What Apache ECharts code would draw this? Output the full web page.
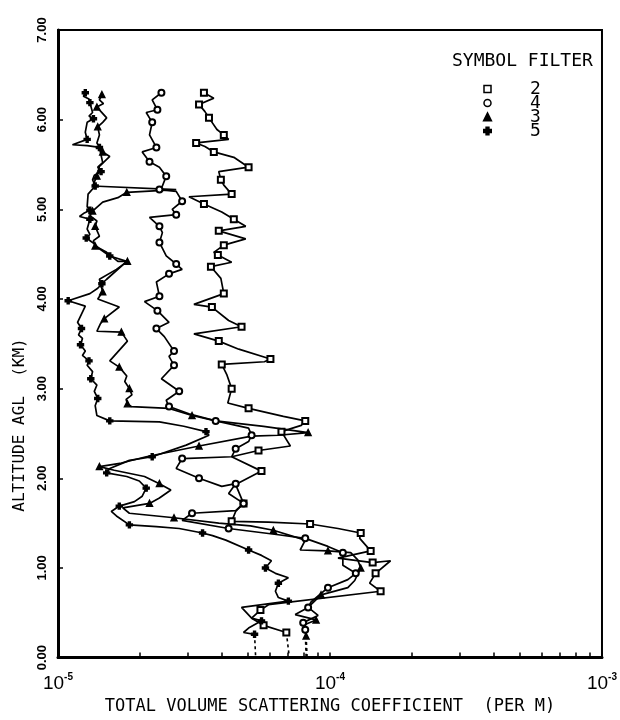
<!DOCTYPE html>
<html>
<head>
<meta charset="utf-8">
<script src="https://cdn.jsdelivr.net/npm/echarts@6/dist/echarts.min.js"></script>
<style>
html, body { margin: 0; padding: 0; background: #fff; }
#main { width: 620px; height: 720px; }
</style>
</head>
<body>
<div id="main"></div>
<script>
// scattering coefficient in units of 1e-5 per metre, altitude in km
var UNIT = 1e-5;

var filter2 = [
    [3.44, 6.30], [3.74, 6.24], [3.30, 6.17], [3.47, 6.09], [3.59, 6.02], [3.84, 5.89], [4.07, 5.83],
    [4.24, 5.78], [3.22, 5.74], [3.47, 5.70], [3.74, 5.64], [4.43, 5.58], [5.02, 5.47], [3.90, 5.42],
    [3.97, 5.33], [4.07, 5.27], [4.35, 5.17], [3.03, 5.14], [3.44, 5.06], [4.00, 4.97], [4.43, 4.89],
    [4.90, 4.81], [3.90, 4.76], [4.90, 4.67], [4.07, 4.60], [3.74, 4.52], [3.87, 4.49], [4.35, 4.41],
    [3.65, 4.36], [3.97, 4.23], [4.07, 4.06], [3.16, 3.94], [3.68, 3.91], [4.24, 3.76], [4.73, 3.69],
    [3.16, 3.61], [3.90, 3.53], [4.62, 3.44], [6.04, 3.33], [5.74, 3.30], [4.00, 3.27], [4.17, 3.16],
    [4.35, 3.00], [4.21, 2.84], [5.02, 2.78], [6.74, 2.69], [8.11, 2.64], [7.84, 2.59], [6.63, 2.52],
    [7.15, 2.36], [5.46, 2.31], [4.35, 2.24], [5.60, 2.08], [4.50, 1.93], [4.81, 1.72], [4.50, 1.63],
    [4.35, 1.52], [5.94, 1.51], [8.45, 1.49], [10.70, 1.44], [12.97, 1.39], [12.86, 1.33], [14.11, 1.19],
    [10.70, 1.11], [14.35, 1.06], [16.70, 1.08], [14.71, 0.94], [13.99, 0.83], [15.35, 0.74], [5.94, 0.59],
    [5.55, 0.53], [5.15, 0.44], [5.70, 0.36], [6.91, 0.28]
];
var filter4 = [
    [2.40, 6.30], [2.22, 6.22], [2.32, 6.11], [2.11, 6.08], [2.22, 5.97], [2.17, 5.83], [2.30, 5.69],
    [2.04, 5.64], [2.17, 5.53], [2.36, 5.47], [2.50, 5.37], [2.42, 5.26], [2.36, 5.22], [2.72, 5.20],
    [2.86, 5.09], [2.63, 5.00], [2.72, 4.94], [2.17, 4.91], [2.36, 4.81], [2.42, 4.74], [2.36, 4.63],
    [2.50, 4.48], [2.72, 4.39], [2.86, 4.33], [2.56, 4.28], [2.30, 4.19], [2.36, 4.03], [2.08, 3.97],
    [2.32, 3.87], [2.56, 3.74], [2.30, 3.67], [2.46, 3.58], [2.67, 3.42], [2.56, 3.36], [2.67, 3.26],
    [2.40, 3.11], [2.79, 2.97], [2.50, 2.87], [2.56, 2.80], [3.03, 2.72], [3.80, 2.64], [5.02, 2.56],
    [5.15, 2.48], [5.02, 2.41], [4.50, 2.33], [4.35, 2.24], [2.86, 2.22], [2.72, 2.11], [3.30, 2.00],
    [4.00, 1.91], [4.50, 1.94], [4.24, 1.83], [4.81, 1.72], [4.50, 1.64], [3.11, 1.61], [2.86, 1.53],
    [4.24, 1.44], [6.46, 1.37], [8.11, 1.33], [9.83, 1.24], [11.15, 1.17], [11.15, 1.03], [12.44, 0.94],
    [11.63, 0.87], [9.83, 0.78], [8.52, 0.62], [8.31, 0.56], [9.04, 0.47], [7.97, 0.39], [8.11, 0.31]
];
var filter3 = [
    [1.45, 6.28], [1.42, 6.22], [1.47, 6.18], [1.39, 6.14], [1.51, 6.02], [1.46, 5.97], [1.40, 5.92],
    [1.42, 5.83], [1.39, 5.74], [1.46, 5.64], [1.55, 5.59], [1.42, 5.48], [1.39, 5.37], [1.34, 5.26],
    [2.72, 5.22], [1.79, 5.19], [1.66, 5.13], [1.46, 5.08], [1.34, 4.98], [1.31, 4.93], [1.39, 4.87],
    [1.37, 4.81], [1.42, 4.70], [1.35, 4.65], [1.37, 4.59], [1.51, 4.52], [1.66, 4.42], [1.80, 4.42],
    [1.64, 4.33], [1.42, 4.22], [1.46, 4.08], [1.40, 4.00], [1.68, 3.91], [1.48, 3.78], [1.43, 3.72],
    [1.39, 3.64], [1.71, 3.63], [1.80, 3.53], [1.55, 3.31], [1.68, 3.24], [1.79, 3.14], [1.76, 3.08],
    [1.83, 3.00], [1.87, 2.93], [1.78, 2.88], [1.80, 2.83], [1.86, 2.80], [2.56, 2.78], [3.11, 2.70],
    [3.80, 2.64], [5.70, 2.58], [8.31, 2.51], [6.46, 2.48], [5.15, 2.47], [3.30, 2.36], [2.11, 2.24],
    [1.71, 2.17], [1.42, 2.13], [1.61, 2.09], [2.08, 2.02], [2.36, 1.94], [2.60, 1.87], [2.36, 1.78],
    [2.17, 1.72], [1.73, 1.67], [1.83, 1.61], [2.67, 1.56], [3.90, 1.50], [5.10, 1.47], [6.19, 1.42],
    [8.11, 1.31], [7.77, 1.20], [9.83, 1.19], [11.92, 1.17], [12.65, 1.09], [12.97, 1.00], [12.33, 0.86],
    [11.63, 0.78], [9.27, 0.70], [8.31, 0.56], [7.45, 0.48], [8.89, 0.42], [7.97, 0.36], [8.17, 0.24]
];
var filter5 = [
    [1.26, 6.30], [1.24, 6.26], [1.30, 6.23], [1.31, 6.19], [1.34, 6.08], [1.30, 6.04], [1.35, 6.01],
    [1.28, 5.97], [1.26, 5.86], [1.28, 5.78], [1.13, 5.72], [1.28, 5.71], [1.42, 5.69], [1.46, 5.52],
    [1.40, 5.47], [1.44, 5.42], [1.36, 5.38], [1.34, 5.33], [1.37, 5.26], [1.29, 5.17], [1.28, 5.03],
    [1.31, 4.99], [1.25, 4.96], [1.20, 4.92], [1.31, 4.89], [1.28, 4.78], [1.31, 4.72], [1.27, 4.68],
    [1.34, 4.63], [1.42, 4.56], [1.55, 4.48], [1.79, 4.42], [1.51, 4.22], [1.45, 4.17], [1.40, 4.12],
    [1.31, 4.06], [1.09, 3.98], [1.26, 3.92], [1.18, 3.74], [1.22, 3.67], [1.19, 3.60], [1.23, 3.56],
    [1.21, 3.49], [1.26, 3.42], [1.23, 3.37], [1.30, 3.31], [1.28, 3.26], [1.34, 3.19], [1.32, 3.11],
    [1.39, 3.04], [1.36, 2.97], [1.40, 2.89], [1.37, 2.81], [1.39, 2.70], [1.55, 2.64], [2.36, 2.63],
    [2.90, 2.58], [3.50, 2.52], [3.59, 2.48], [2.96, 2.37], [2.22, 2.24], [1.83, 2.20], [1.55, 2.11],
    [1.51, 2.06], [1.79, 2.02], [1.99, 1.97], [2.11, 1.89], [2.04, 1.80], [1.91, 1.74], [1.68, 1.69],
    [1.57, 1.63], [1.64, 1.58], [1.83, 1.48], [2.30, 1.46], [2.79, 1.44], [3.40, 1.39], [3.70, 1.36],
    [4.14, 1.31], [5.02, 1.20], [5.60, 1.14], [6.09, 1.08], [5.79, 1.00], [6.30, 0.94], [7.03, 0.89],
    [6.46, 0.83], [6.30, 0.74], [6.46, 0.67], [7.03, 0.63], [4.73, 0.56], [5.15, 0.44], [5.60, 0.41],
    [5.02, 0.33], [4.81, 0.28], [5.28, 0.26]
];

// dashed extrapolation from lowest measurement to the ground
var tail2 = [[6.91, 0.28], [7.09, 0]];
var tail4 = [[8.11, 0.31], [8.17, 0]];
var tail3 = [[8.17, 0.24], [8.24, 0]];
var tail5 = [[5.28, 0.26], [5.33, 0]];

var xTicks = [1e-5, 2e-5, 3e-5, 4e-5, 5e-5, 6e-5, 7e-5, 8e-5, 9e-5,
    1e-4, 2e-4, 3e-4, 4e-4, 5e-4, 6e-4, 7e-4, 8e-4, 9e-4, 1e-3];
var xLabels = [1e-5, 1e-4, 1e-3];

var plusPath = 'path://M2,0H4V2H6V4H4V6H2V4H0V2H2Z';
var mono = 'DejaVu Sans Mono';

function profile(name, pts, sym, size, every) {
    return {
        name: name,
        type: 'line',
        data: pts.map(function (p, i) {
            return { value: [p[0] * UNIT, p[1]], symbol: (i % every === 0 || i === pts.length - 1) ? sym : 'none' };
        }),
        symbol: sym,
        symbolSize: size,
        showAllSymbol: true,
        lineStyle: { color: '#000', width: 1.7 },
        itemStyle: { color: '#000', borderColor: '#000', borderWidth: 1.4 },
        z: 3
    };
}

function tail(name, pts) {
    return {
        name: name,
        type: 'line',
        data: pts.map(function (p) { return [p[0] * UNIT, p[1]]; }),
        symbol: 'none',
        lineStyle: { color: '#000', width: 1.6, type: [3, 3] },
        z: 2
    };
}

var chart = echarts.init(document.getElementById('main'));
var option = {
    animation: false,
    backgroundColor: '#fff',
    title: {
        text: 'SYMBOL FILTER',
        left: 452,
        top: 52,
        padding: 0,
        textStyle: { fontFamily: mono, fontSize: 18, fontWeight: 'normal', color: '#000' }
    },
    legend: {
        orient: 'vertical',
        left: 483,
        top: 80,
        padding: 0,
        itemWidth: 7,
        itemHeight: 7,
        itemGap: -4,
        selectedMode: false,
        textStyle: { fontFamily: mono, fontSize: 18, color: '#000', padding: [0, 0, 0, 34] },
        data: [
            { name: '2', icon: 'rect', itemStyle: { color: '#fff', borderColor: '#000', borderWidth: 1.5 } },
            { name: '4', icon: 'circle', itemStyle: { color: '#fff', borderColor: '#000', borderWidth: 1.5 } },
            { name: '3', icon: 'triangle', itemStyle: { color: '#000' } },
            { name: '5', icon: plusPath, itemStyle: { color: '#000' } }
        ]
    },
    grid: {
        left: 58, right: 13, top: 30, bottom: 60,
        show: true, borderColor: '#000', borderWidth: 2
    },
    xAxis: {
        type: 'log',
        logBase: 10,
        min: 1e-5,
        max: 1e-3,
        name: 'TOTAL VOLUME SCATTERING COEFFICIENT  (PER M)',
        nameLocation: 'middle',
        nameGap: 40,
        nameTextStyle: { fontFamily: mono, fontSize: 17, color: '#000' },
        axisLine: { show: true, lineStyle: { color: '#000', width: 3 } },
        axisTick: { show: true, inside: true, length: 5, customValues: xTicks, lineStyle: { color: '#000', width: 1.5 } },
        minorTick: { show: false },
        splitLine: { show: false },
        axisLabel: {
            customValues: xLabels,
            margin: 15,
            formatter: function (v) {
                return '{b|10}{e|-' + Math.abs(Math.round(Math.log10(v))) + '}';
            },
            rich: {
                b: { fontFamily: 'Liberation Sans', fontSize: 19, color: '#000' },
                e: { fontFamily: 'Liberation Sans', fontSize: 10, fontWeight: 'bold', color: '#000', padding: [0, 0, 12, 0] }
            }
        }
    },
    yAxis: {
        type: 'value',
        min: 0,
        max: 7,
        interval: 1,
        axisLine: { show: true, lineStyle: { color: '#000', width: 3 } },
        axisTick: { show: true, inside: true, length: 5, lineStyle: { color: '#000', width: 1.5 } },
        splitLine: { show: false },
        axisLabel: {
            rotate: 90,
            margin: 9,
            fontFamily: 'Liberation Sans',
            fontSize: 13,
            fontWeight: 'bold',
            color: '#000',
            formatter: function (v) { return v.toFixed(2); }
        }
    },
    graphic: [{
        type: 'text',
        x: 20,
        y: 425,
        rotation: Math.PI / 2,
        style: { text: 'ALTITUDE AGL  (KM)', font: '16px "DejaVu Sans Mono"', fill: '#000', align: 'center', verticalAlign: 'middle' }
    }],
    series: [
        profile('2', filter2, 'emptyRect', 6, 2),
        profile('4', filter4, 'emptyCircle', 6, 2),
        profile('3', filter3, 'triangle', 6, 3),
        profile('5', filter5, plusPath, 6, 3),
        tail('t2', tail2),
        tail('t4', tail4),
        tail('t3', tail3),
        tail('t5', tail5)
    ]
};
chart.setOption(option);
</script>
</body>
</html>
